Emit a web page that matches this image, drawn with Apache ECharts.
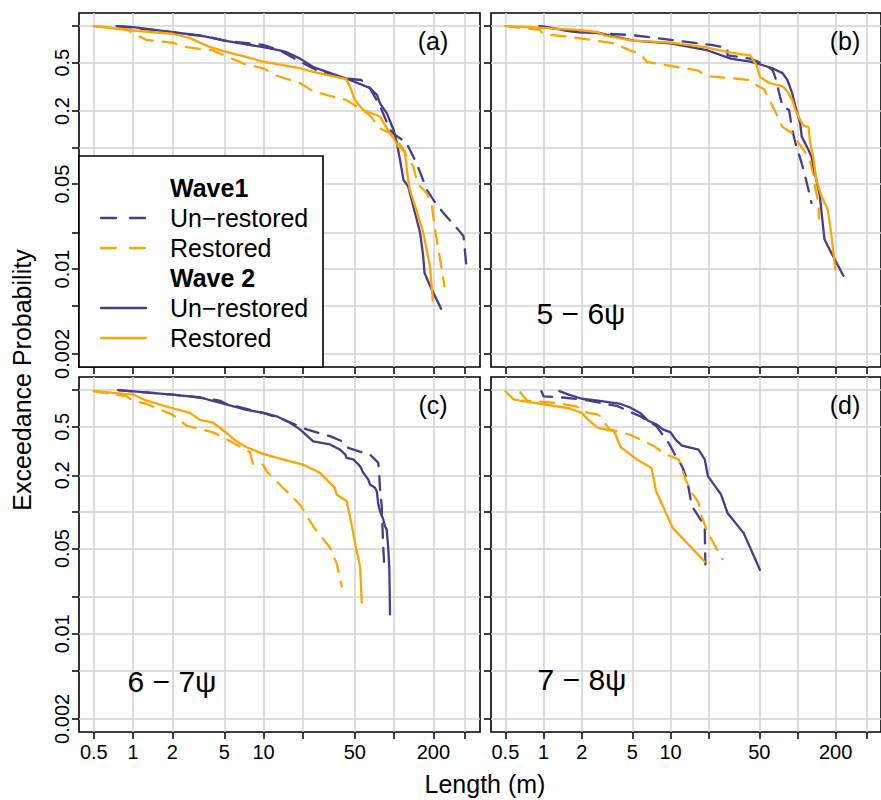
<!DOCTYPE html>
<html>
<head>
<meta charset="utf-8">
<script src="https://cdn.jsdelivr.net/npm/echarts@6/dist/echarts.min.js"></script>
<style>
  html, body { margin: 0; padding: 0; background: #ffffff; }
  #chart { width: 881px; height: 800px; }
</style>
</head>
<body>
<div id="chart"></div>
<script>
// Axis ticks (log scales on both axes)
const xTicks = [0.5, 1, 2, 5, 10, 20, 50, 100, 200, 350];
const xTickLabels = [0.5, 1, 2, 5, 10, 50, 200];
const yTicks = [0.002, 0.005, 0.01, 0.02, 0.05, 0.1, 0.2, 0.5, 1];
const yTickLabels = [0.002, 0.01, 0.05, 0.2, 0.5];
const xRange = [0.385, 455];
const yRange = [0.00156, 1.282];

const panelTags = ['(a)', '(b)', '(c)', '(d)'];
const bandLabels = ['', '5 − 6ψ', '6 − 7ψ', '7 − 8ψ'];

// Exceedance curves: [length (m), exceedance probability]
// Panel (a)
const a_w1_un = [[0.75,1.0],[1.0,0.97],[2.0,0.89],[3.9,0.81],[5.0,0.76],[9.9,0.70],[13.3,0.63],[19,0.51],[27,0.42],[43,0.37],[56,0.36],[65,0.31],[78,0.22],[93,0.14],[102,0.127],[125,0.109],[132,0.096],[149,0.074],[178,0.045],[200,0.037],[238,0.029],[311,0.021],[340,0.0186],[360,0.0099]];
const a_w1_re = [[0.5,1.0],[0.89,0.95],[1.0,0.865],[1.27,0.77],[2.0,0.73],[2.57,0.67],[4.1,0.63],[5.0,0.575],[7.4,0.48],[9.9,0.45],[12.6,0.39],[19,0.34],[24,0.29],[43,0.246],[52,0.217],[65,0.185],[78,0.144],[93,0.131],[105,0.116],[118,0.096],[125,0.084],[140,0.070],[149,0.054],[158,0.048],[178,0.042],[194,0.034],[206,0.021],[225,0.012],[243,0.0072]];
const a_w2_un = [[0.75,1.0],[1.0,0.98],[2.0,0.89],[3.25,0.84],[5.0,0.76],[9.9,0.67],[13.3,0.63],[15,0.61],[19,0.54],[24,0.46],[43,0.37],[65,0.31],[74,0.27],[78,0.231],[88,0.191],[99,0.14],[105,0.109],[111,0.079],[118,0.054],[128,0.048],[140,0.033],[158,0.020],[167,0.0128],[171,0.0093],[188,0.0073],[229,0.0047]];
const a_w2_re = [[0.5,1.0],[1.0,0.92],[2.0,0.865],[2.7,0.80],[3.9,0.67],[5.0,0.62],[6.6,0.575],[9.9,0.51],[19,0.45],[24,0.42],[43,0.366],[46,0.316],[50,0.246],[58,0.204],[78,0.18],[88,0.144],[99,0.119],[108,0.102],[121,0.093],[123,0.079],[128,0.054],[132,0.045],[145,0.033],[167,0.020],[188,0.0106],[198,0.0055]];
// Panel (b)
const b_w1_un = [[0.93,1.0],[1.58,0.91],[2.53,0.88],[5.1,0.84],[10,0.77],[20.9,0.70],[28.1,0.66],[28.1,0.575],[42.4,0.54],[56.8,0.476],[64,0.43],[67.8,0.36],[71.9,0.279],[76.2,0.217],[85.8,0.204],[90.9,0.14],[96.4,0.109],[102,0.090],[108,0.074],[115,0.058],[122,0.045],[129,0.035]];
const b_w1_re = [[0.5,1.0],[0.78,0.95],[0.93,0.93],[0.99,0.865],[2.0,0.79],[3.6,0.72],[4.8,0.63],[5.8,0.59],[6.5,0.507],[16.6,0.43],[18.6,0.39],[42.4,0.36],[47.7,0.326],[55,0.30],[57,0.27],[64,0.217],[68,0.191],[76,0.148],[91,0.131],[102,0.109],[122,0.084],[133,0.062],[137,0.048],[146,0.035],[148,0.026]];
const b_w2_un = [[0.93,1.0],[1.88,0.89],[2.68,0.88],[5.1,0.76],[10,0.72],[19.7,0.63],[29.8,0.54],[42.4,0.51],[53.6,0.476],[64,0.448],[76.2,0.41],[83.3,0.36],[90.9,0.279],[96.4,0.217],[105,0.159],[108,0.123],[122,0.096],[129,0.084],[137,0.062],[150,0.040],[163,0.0177],[184,0.0137],[230,0.0088]];
const b_w2_re = [[0.53,1.0],[1.88,0.93],[2.68,0.89],[3.0,0.84],[5.0,0.76],[10,0.73],[18.6,0.67],[28.1,0.61],[42.4,0.575],[47.7,0.476],[50.6,0.38],[60.3,0.34],[76.2,0.32],[83.3,0.29],[90.9,0.246],[96.4,0.204],[105,0.169],[112,0.151],[122,0.148],[126,0.109],[133,0.084],[141,0.054],[154,0.040],[173,0.031],[184,0.020],[199,0.0099]];
// Panel (c)
const c_w1_un = [[0.77,1.0],[2.0,0.92],[3.25,0.87],[4.6,0.82],[5.2,0.77],[9.9,0.65],[13.3,0.59],[21.4,0.476],[32.2,0.419],[39.7,0.381],[44.5,0.336],[58,0.306],[65.3,0.296],[75.7,0.253],[76.9,0.203],[78,0.153],[80.3,0.112],[82.5,0.052],[83.7,0.039]];
const c_w1_re = [[0.5,0.98],[0.89,0.89],[1.0,0.82],[1.27,0.77],[2.0,0.63],[2.57,0.51],[4.1,0.45],[5.85,0.37],[7.85,0.31],[8.3,0.245],[9.9,0.245],[10.5,0.217],[13.3,0.168],[19,0.115],[24,0.076],[32.2,0.051],[36.2,0.038],[37.3,0.033],[39.7,0.0245]];
const c_w2_un = [[0.77,1.0],[2.0,0.92],[3.25,0.87],[4.6,0.79],[7.4,0.69],[9.9,0.65],[12.6,0.61],[15.9,0.54],[19,0.476],[24,0.38],[32.2,0.358],[38.4,0.326],[42.2,0.296],[43.3,0.278],[48.6,0.27],[54.8,0.238],[58,0.21],[63.3,0.185],[65.3,0.168],[71.3,0.158],[73.6,0.148],[75.7,0.115],[78,0.101],[82.5,0.087],[85.2,0.076],[87.7,0.072],[90.3,0.049],[91.9,0.034],[93,0.0144]];
const c_w2_re = [[0.5,0.98],[1.0,0.92],[1.27,0.82],[2.0,0.71],[2.72,0.65],[3.25,0.57],[4.1,0.54],[5.0,0.46],[6.2,0.38],[7.4,0.34],[9.9,0.30],[14,0.27],[20,0.245],[27,0.21],[32.2,0.173],[35.2,0.158],[36.2,0.139],[43.3,0.123],[45.9,0.092],[48.6,0.067],[51.5,0.048],[54.8,0.036],[56.5,0.018]];
// Panel (d)
const d_w1_un = [[0.96,0.98],[1.0,0.89],[1.4,0.87],[2.0,0.84],[3.8,0.74],[5.76,0.61],[7.7,0.51],[9.8,0.36],[11,0.287],[12.3,0.238],[13.5,0.185],[14.7,0.112],[16.6,0.092],[18.6,0.076],[18.8,0.037]];
const d_w1_re = [[0.655,0.96],[0.74,0.82],[1.18,0.79],[1.78,0.74],[2.25,0.65],[2.68,0.63],[2.8,0.61],[3.3,0.476],[4.8,0.43],[7.3,0.35],[9.2,0.296],[11.6,0.27],[13.1,0.185],[14.7,0.144],[16.6,0.119],[17.6,0.092],[19.7,0.067],[25.7,0.041]];
const d_w2_un = [[1.33,0.98],[1.58,0.92],[2.0,0.85],[2.68,0.82],[4.05,0.77],[4.8,0.72],[5.76,0.65],[6.67,0.56],[7.7,0.525],[8.7,0.476],[10,0.45],[11,0.39],[12.3,0.35],[16.6,0.325],[18.6,0.27],[19.7,0.197],[25,0.139],[28.1,0.098],[37.7,0.067],[50.6,0.0335]];
const d_w2_re = [[0.5,0.98],[0.58,0.84],[0.655,0.82],[1.58,0.71],[2.0,0.65],[2.25,0.57],[2.68,0.49],[3.6,0.46],[4.05,0.34],[5.43,0.27],[7.07,0.23],[7.7,0.148],[10.4,0.074],[18.6,0.039]];

const PURPLE = '#483D8B';
const ORANGE = '#FFA500';
const FONT = '"Liberation Sans", Arial, Helvetica, sans-serif';
const DASH = [14, 10];

const panels = [
  [a_w1_un, a_w1_re, a_w2_un, a_w2_re],
  [b_w1_un, b_w1_re, b_w2_un, b_w2_re],
  [c_w1_un, c_w1_re, c_w2_un, c_w2_re],
  [d_w1_un, d_w1_re, d_w2_un, d_w2_re]
];
const seriesStyle = [
  { name: 'Wave1 Un−restored', color: PURPLE, type: DASH },
  { name: 'Wave1 Restored', color: ORANGE, type: DASH },
  { name: 'Wave 2 Un−restored', color: PURPLE, type: 'solid' },
  { name: 'Wave 2 Restored', color: ORANGE, type: 'solid' }
];

const gridBoxes = [
  { left: 79, top: 13, width: 401, height: 354 },
  { left: 491, top: 13, width: 401, height: 354 },
  { left: 79, top: 377, width: 401, height: 355 },
  { left: 491, top: 377, width: 401, height: 355 }
];

const fmt = v => String(parseFloat(Number(v).toPrecision(6)));

const grid = gridBoxes.map(b => Object.assign({
  show: true, borderColor: '#000', borderWidth: 1.6, backgroundColor: 'transparent', containLabel: false
}, b));

const xAxis = gridBoxes.map((b, i) => ({
  gridIndex: i, type: 'log', logBase: 10, min: xRange[0], max: xRange[1],
  axisLine: { show: false },
  axisTick: { show: true, customValues: xTicks, length: 7, lineStyle: { color: '#000', width: 1.5 } },
  axisLabel: { show: i >= 2, customValues: xTickLabels, formatter: fmt, fontSize: 20, color: '#000', fontFamily: FONT, margin: 10 },
  splitLine: { show: true, lineStyle: { color: '#d2d2d2', width: 1.5 } },
  minorTick: { show: false }, minorSplitLine: { show: false }
}));

const yAxis = gridBoxes.map((b, i) => ({
  gridIndex: i, type: 'log', logBase: 10, min: yRange[0], max: yRange[1],
  axisLine: { show: false },
  axisTick: { show: true, customValues: yTicks, length: 7, lineStyle: { color: '#000', width: 1.5 } },
  axisLabel: { show: i % 2 === 0, customValues: yTickLabels, formatter: fmt, rotate: 90, fontSize: 20, color: '#000', fontFamily: FONT, margin: 7 },
  splitLine: { show: true, lineStyle: { color: '#d2d2d2', width: 1.5 } },
  minorTick: { show: false }, minorSplitLine: { show: false }
}));

const series = [];
panels.forEach((curves, i) => {
  curves.forEach((data, k) => {
    const s = seriesStyle[k];
    series.push({
      name: s.name, type: 'line', data: data,
      xAxisIndex: i, yAxisIndex: i,
      symbol: 'none', showSymbol: false, silent: true, clip: true,
      lineStyle: { color: s.color, width: 2.3, type: s.type, cap: 'round', join: 'round' },
      z: 3
    });
  });
});

// Text labels and the key box
const graphic = [];
const tagPos = [[433, 41], [845, 41], [433, 405], [845, 405]];
panelTags.forEach((t, i) => graphic.push({
  type: 'text', x: tagPos[i][0], y: tagPos[i][1], z: 20,
  style: { text: t, font: '25px ' + FONT, fill: '#000', align: 'center', verticalAlign: 'middle' }
}));
const bandPos = [null, [581, 313], [172, 681], [582, 679]];
bandLabels.forEach((t, i) => {
  if (!t) return;
  graphic.push({
    type: 'text', x: bandPos[i][0], y: bandPos[i][1], z: 20,
    style: { text: t, font: '30px ' + FONT, fill: '#000', align: 'center', verticalAlign: 'middle' }
  });
});
graphic.push({
  type: 'text', x: 22, y: 380, rotation: Math.PI / 2, z: 20,
  style: { text: 'Exceedance Probability', font: '25px ' + FONT, fill: '#000', align: 'center', verticalAlign: 'middle' }
});
graphic.push({
  type: 'text', x: 485, y: 784, z: 20,
  style: { text: 'Length (m)', font: '25px ' + FONT, fill: '#000', align: 'center', verticalAlign: 'middle' }
});

// Key
const keyRows = [
  { text: 'Wave1', bold: true },
  { text: 'Un−restored', color: PURPLE, dash: true },
  { text: 'Restored', color: ORANGE, dash: true },
  { text: 'Wave 2', bold: true },
  { text: 'Un−restored', color: PURPLE, dash: false },
  { text: 'Restored', color: ORANGE, dash: false }
];
graphic.push({
  type: 'rect', z: 30,
  shape: { x: 79, y: 156, width: 244, height: 211 },
  style: { fill: '#fff', stroke: '#000', lineWidth: 1.6 }
});
keyRows.forEach((r, j) => {
  const y = 188 + j * 30;
  if (r.color) {
    graphic.push({
      type: 'line', z: 31,
      shape: { x1: 101, y1: y, x2: 146, y2: y },
      style: { stroke: r.color, lineWidth: 2.3, lineDash: r.dash ? [15, 14] : null, lineCap: 'round' }
    });
  }
  graphic.push({
    type: 'text', x: 170, y: y, z: 31,
    style: { text: r.text, font: (r.bold ? 'bold ' : '') + '25px ' + FONT, fill: '#000', align: 'left', verticalAlign: 'middle' }
  });
});

const chart = echarts.init(document.getElementById('chart'), null, { renderer: 'svg', width: 881, height: 800 });
chart.setOption({
  animation: false,
  backgroundColor: '#fff',
  grid: grid,
  xAxis: xAxis,
  yAxis: yAxis,
  series: series,
  graphic: graphic
});
</script>
</body>
</html>
